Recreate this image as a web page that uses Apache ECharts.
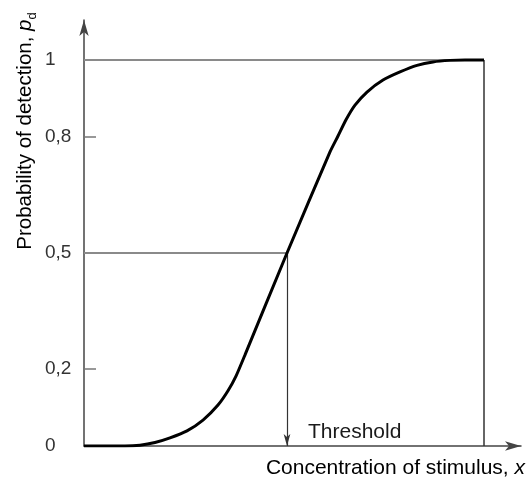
<!DOCTYPE html>
<html><head><meta charset="utf-8">
<script src="https://cdn.jsdelivr.net/npm/echarts@6/dist/echarts.min.js"></script>
<style>html,body{margin:0;padding:0;background:#fff}#c{width:530px;height:479px}</style>
</head><body><div id="c"></div>
<script>
// Curve: probability of detection vs concentration (arbitrary units)
const curveX = [0, 1.025, 1.4, 1.775, 2.15, 2.575, 2.975, 3.35, 3.6, 3.8, 4.025, 5.075, 6.15, 6.35, 6.55, 6.775, 7.075, 7.475, 7.9, 8.325, 8.725, 9.15, 9.525, 10];
const curveY = [0, 0, 0.002, 0.009, 0.021, 0.039, 0.067, 0.106, 0.143, 0.181, 0.236, 0.500, 0.762, 0.803, 0.845, 0.883, 0.917, 0.948, 0.969, 0.986, 0.995, 0.999, 1.0, 1.0];
const yLabelValues = [0, 0.2, 0.5, 0.8, 1];
const yTickValues = [0.2, 0.8];
const thresholdX = 5.075;
const thresholdP = 0.5;
const xEnd = 10;
const pMax = 1;
const xAxisMax = 10.925;
const yAxisMax = 1.1036;
const xName = 'Concentration of stimulus, ';
const xVar = 'x';
const yName = 'Probability of detection, ';
const thresholdLabel = 'Threshold';

const FONT = '"Liberation Sans", Arial, sans-serif';
const TXT = '#1a1a1a';

const chart = echarts.init(document.getElementById('c'));
chart.setOption({
  animation: false,
  backgroundColor: '#fff',
  grid: { left: 84, right: 9, top: 20, bottom: 33, outerBoundsMode: 'none', containLabel: false },
  xAxis: {
    type: 'value', min: 0, max: xAxisMax,
    axisLine: { show: true, symbol: ['none', 'arrow'], symbolSize: [7, 16], lineStyle: { color: '#444', width: 1.5 } },
    axisTick: { show: false }, axisLabel: { show: false }, splitLine: { show: false }
  },
  yAxis: {
    type: 'value', min: 0, max: yAxisMax,
    axisLine: { show: true, symbol: ['none', 'arrow'], symbolSize: [7, 16], lineStyle: { color: '#444', width: 1.5 } },
    axisTick: { show: true, inside: true, length: 12, customValues: yTickValues, lineStyle: { color: '#777', width: 1.5 } },
    axisLabel: {
      customValues: yLabelValues, align: 'left', margin: 39,
      fontFamily: FONT, fontSize: 19, color: '#333',
      formatter: v => String(v).replace('.', ',')
    },
    splitLine: { show: false }
  },
  series: [
    { type: 'line', silent: true, symbol: 'none', data: [[0, pMax], [xEnd, pMax]], lineStyle: { color: '#8a8a8a', width: 2 }, z: 2 },
    { type: 'line', silent: true, symbol: 'none', data: [[0, thresholdP], [thresholdX, thresholdP]], lineStyle: { color: '#8a8a8a', width: 2 }, z: 2 },
    { type: 'line', silent: true, symbol: 'none', data: [[xEnd, 0], [xEnd, pMax]], lineStyle: { color: '#333', width: 1.5 }, z: 2 },
    { type: 'line', silent: true, symbol: 'none', data: [],
      markLine: { silent: true, symbol: ['none', 'arrow'], symbolSize: [5, 12], label: { show: false },
        lineStyle: { color: '#333', width: 1.2, type: 'solid' },
        data: [[{ coord: [thresholdX, thresholdP] }, { coord: [thresholdX, 0] }]] }, z: 2 },
    { type: 'line', silent: true, symbol: 'none', smooth: 0.2,
      data: curveX.map((x, i) => [x, curveY[i]]), lineStyle: { color: '#000', width: 3 }, z: 5 }
  ],
  graphic: [
    { type: 'text', x: 25, y: 131, rotation: Math.PI / 2,
      style: { text: '{a|' + yName + '}{p|p}{d|d}', align: 'center', verticalAlign: 'middle',
        rich: { a: { fontFamily: FONT, fontSize: 20.5, color: TXT, lineHeight: 28, verticalAlign: 'middle' },
                p: { fontFamily: FONT, fontSize: 20.5, fontStyle: 'italic', color: TXT, lineHeight: 28, verticalAlign: 'middle' },
                d: { fontFamily: FONT, fontSize: 13, color: TXT, lineHeight: 13, verticalAlign: 'bottom' } } } },
    { type: 'text', x: 525, y: 468,
      style: { text: '{a|' + xName + '}{x|' + xVar + '}', align: 'right', verticalAlign: 'middle',
        rich: { a: { fontFamily: FONT, fontSize: 21, color: TXT }, x: { fontFamily: FONT, fontSize: 21, fontStyle: 'italic', color: TXT } } } },
    { type: 'text', x: 308, y: 432,
      style: { text: thresholdLabel, fontFamily: FONT, fontSize: 21, fill: TXT, align: 'left', verticalAlign: 'middle' } }
  ]
});
</script></body></html>
